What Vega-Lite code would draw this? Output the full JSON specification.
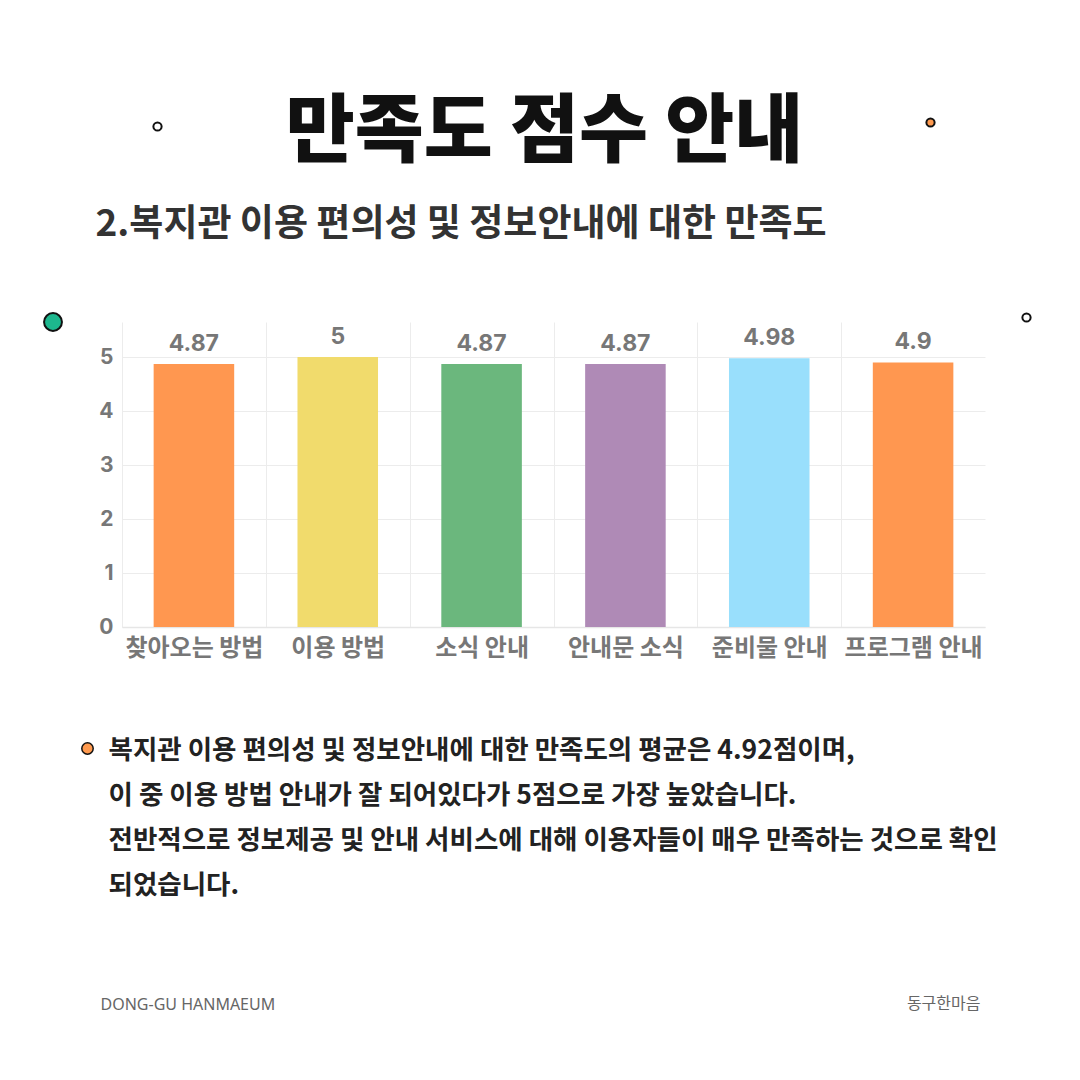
{
  "$schema": "https://vega.github.io/schema/vega-lite/v6.json",
  "width": 863,
  "height": 305,
  "autosize": "none",
  "padding": {"left": 122, "top": 322, "right": 95, "bottom": 453},
  "background": "#ffffff",
  "config": {
    "font": "Noto Sans CJK KR",
    "view": {"stroke": null}
  },
  "title": {
    "text": "만족도 점수 안내",
    "anchor": "middle",
    "frame": "group",
    "font": "Noto Sans CJK KR",
    "fontSize": 75,
    "fontWeight": 900,
    "color": "#111111",
    "dx": -9,
    "offset": -55
  },
  "data": {
    "values": [
      {"item": "찾아오는 방법", "score": 4.87},
      {"item": "이용 방법", "score": 5},
      {"item": "소식 안내", "score": 4.87},
      {"item": "안내문 소식", "score": 4.87},
      {"item": "준비물 안내", "score": 4.98},
      {"item": "프로그램 안내", "score": 4.9}
    ]
  },
  "layer": [
    {
      "encoding": {
        "x": {
          "field": "item",
          "type": "nominal",
          "sort": null,
          "scale": {"paddingInner": 0, "paddingOuter": 0},
          "axis": {
            "orient": "bottom",
            "tickBand": "extent",
            "ticks": false,
            "grid": true,
            "gridColor": {"condition": {"test": "datum.value === '프로그램 안내'", "value": "transparent"}, "value": "#ececec"},
            "gridWidth": 1,
            "domain": true,
            "domainColor": "#e6e6e6",
            "domainWidth": 1.5,
            "labelAngle": 0,
            "labelFont": "Noto Sans CJK KR",
            "labelFontSize": 24,
            "labelFontWeight": "bold",
            "labelColor": "#777777",
            "labelPadding": 9,
            "title": [
              "복지관 이용 편의성 및 정보안내에 대한 만족도의 평균은 4.92점이며,",
              "이 중 이용 방법 안내가 잘 되어있다가 5점으로 가장 높았습니다.",
              "전반적으로 정보제공 및 안내 서비스에 대해 이용자들이 매우 만족하는 것으로 확인",
              "되었습니다."
            ],
            "titleFont": "Noto Sans CJK KR",
            "titleFontSize": 26.5,
            "titleFontWeight": "bold",
            "titleColor": "#222222",
            "titleAlign": "left",
            "titleBaseline": "alphabetic",
            "titleAngle": 0,
            "titleLineHeight": 45,
            "titleX": -14,
            "titleY": 131
          }
        },
        "y": {
          "field": "score",
          "type": "quantitative",
          "scale": {"domain": [0, 5.65], "nice": false},
          "axis": {
            "orient": "left",
            "values": [0, 1, 2, 3, 4, 5],
            "ticks": false,
            "domain": false,
            "grid": true,
            "gridColor": "#ececec",
            "labelFont": "Inter",
            "labelFontSize": 21,
            "labelFontWeight": "bold",
            "labelColor": "#777777",
            "labelPadding": 9,
            "title": "2.복지관 이용 편의성 및 정보안내에 대한 만족도",
            "titleFont": "Noto Sans CJK KR",
            "titleFontSize": 37,
            "titleFontWeight": "bold",
            "titleColor": "#333333",
            "titleAngle": 0,
            "titleAlign": "left",
            "titleBaseline": "alphabetic",
            "titleX": -27,
            "titleY": -87
          }
        }
      },
      "layer": [
        {
          "mark": {"type": "bar", "width": {"band": 0.56}},
          "encoding": {
            "color": {
              "field": "item",
              "type": "nominal",
              "sort": null,
              "scale": {
                "domain": ["찾아오는 방법", "이용 방법", "소식 안내", "안내문 소식", "준비물 안내", "프로그램 안내"],
                "range": ["#FF9750", "#F1DB6C", "#6BB77D", "#AF8AB6", "#99DFFC", "#FF9750"]
              },
              "legend": null
            }
          }
        },
        {
          "mark": {"type": "text", "dy": -13, "baseline": "alphabetic", "font": "Inter", "fontSize": 23, "fontWeight": "bold", "color": "#777777"},
          "encoding": {
            "text": {"field": "score", "type": "quantitative", "format": "~g"}
          }
        }
      ]
    },
    {
      "transform": [{"filter": "false"}],
      "mark": {"type": "circle"},
      "encoding": {
        "x": {
          "field": "item",
          "type": "nominal",
          "scale": {"domain": ["a"]},
          "axis": {
            "orient": "top",
            "labels": false,
            "ticks": false,
            "domain": false,
            "grid": false,
            "title": "DONG-GU HANMAEUM",
            "titleFont": "Noto Sans",
            "titleFontSize": 16,
            "titleFontWeight": "normal",
            "titleColor": "#666666",
            "titleAlign": "left",
            "titleBaseline": "alphabetic",
            "titleAngle": 0,
            "titleX": -22,
            "titleY": 687
          }
        },
        "y": {
          "field": "score",
          "type": "quantitative",
          "scale": {"domain": [0, 1]},
          "axis": {
            "orient": "right",
            "labels": false,
            "ticks": false,
            "domain": false,
            "grid": false,
            "title": "동구한마음",
            "titleFont": "Noto Sans CJK KR",
            "titleFontSize": 16,
            "titleFontWeight": "normal",
            "titleColor": "#666666",
            "titleAlign": "right",
            "titleBaseline": "alphabetic",
            "titleAngle": 0,
            "titleX": -5,
            "titleY": 686
          }
        },
        "fill": {
          "datum": "bullet",
          "scale": {"range": ["#FF9A4F"]},
          "legend": {
            "orient": "none",
            "legendX": -41,
            "legendY": 420,
            "title": null,
            "labelExpr": "''",
            "symbolType": "circle",
            "symbolSize": 130,
            "symbolStrokeColor": "#111111",
            "symbolStrokeWidth": 1.5,
            "symbolOpacity": 1,
            "padding": 0
          }
        }
      }
    },
    {
      "transform": [{"filter": "false"}],
      "mark": {"type": "circle"},
      "encoding": {
        "fill": {
          "datum": "dot-a",
          "scale": {"range": ["#ffffff"]},
          "legend": {
            "orient": "none", "legendX": 30, "legendY": -201, "title": null, "labelExpr": "''",
            "symbolType": "circle", "symbolSize": 68, "symbolStrokeColor": "#111111", "symbolStrokeWidth": 2,
            "symbolOpacity": 1, "padding": 0
          }
        }
      }
    },
    {
      "transform": [{"filter": "false"}],
      "mark": {"type": "circle"},
      "encoding": {
        "fill": {
          "datum": "dot-b",
          "scale": {"range": ["#FF9A4F"]},
          "legend": {
            "orient": "none", "legendX": 803, "legendY": -205, "title": null, "labelExpr": "''",
            "symbolType": "circle", "symbolSize": 68, "symbolStrokeColor": "#111111", "symbolStrokeWidth": 2,
            "symbolOpacity": 1, "padding": 0
          }
        }
      }
    },
    {
      "transform": [{"filter": "false"}],
      "mark": {"type": "circle"},
      "encoding": {
        "fill": {
          "datum": "dot-c",
          "scale": {"range": ["#1DB78E"]},
          "legend": {
            "orient": "none", "legendX": -79, "legendY": -10, "title": null, "labelExpr": "''",
            "symbolType": "circle", "symbolSize": 320, "symbolStrokeColor": "#111111", "symbolStrokeWidth": 2,
            "symbolOpacity": 1, "padding": 0
          }
        }
      }
    },
    {
      "transform": [{"filter": "false"}],
      "mark": {"type": "circle"},
      "encoding": {
        "fill": {
          "datum": "dot-d",
          "scale": {"range": ["#ffffff"]},
          "legend": {
            "orient": "none", "legendX": 899, "legendY": -10, "title": null, "labelExpr": "''",
            "symbolType": "circle", "symbolSize": 68, "symbolStrokeColor": "#111111", "symbolStrokeWidth": 2,
            "symbolOpacity": 1, "padding": 0
          }
        }
      }
    }
  ],
  "resolve": {
    "scale": {"x": "independent", "y": "independent", "fill": "independent"},
    "axis": {"x": "independent", "y": "independent"},
    "legend": {"fill": "independent"}
  }
}
